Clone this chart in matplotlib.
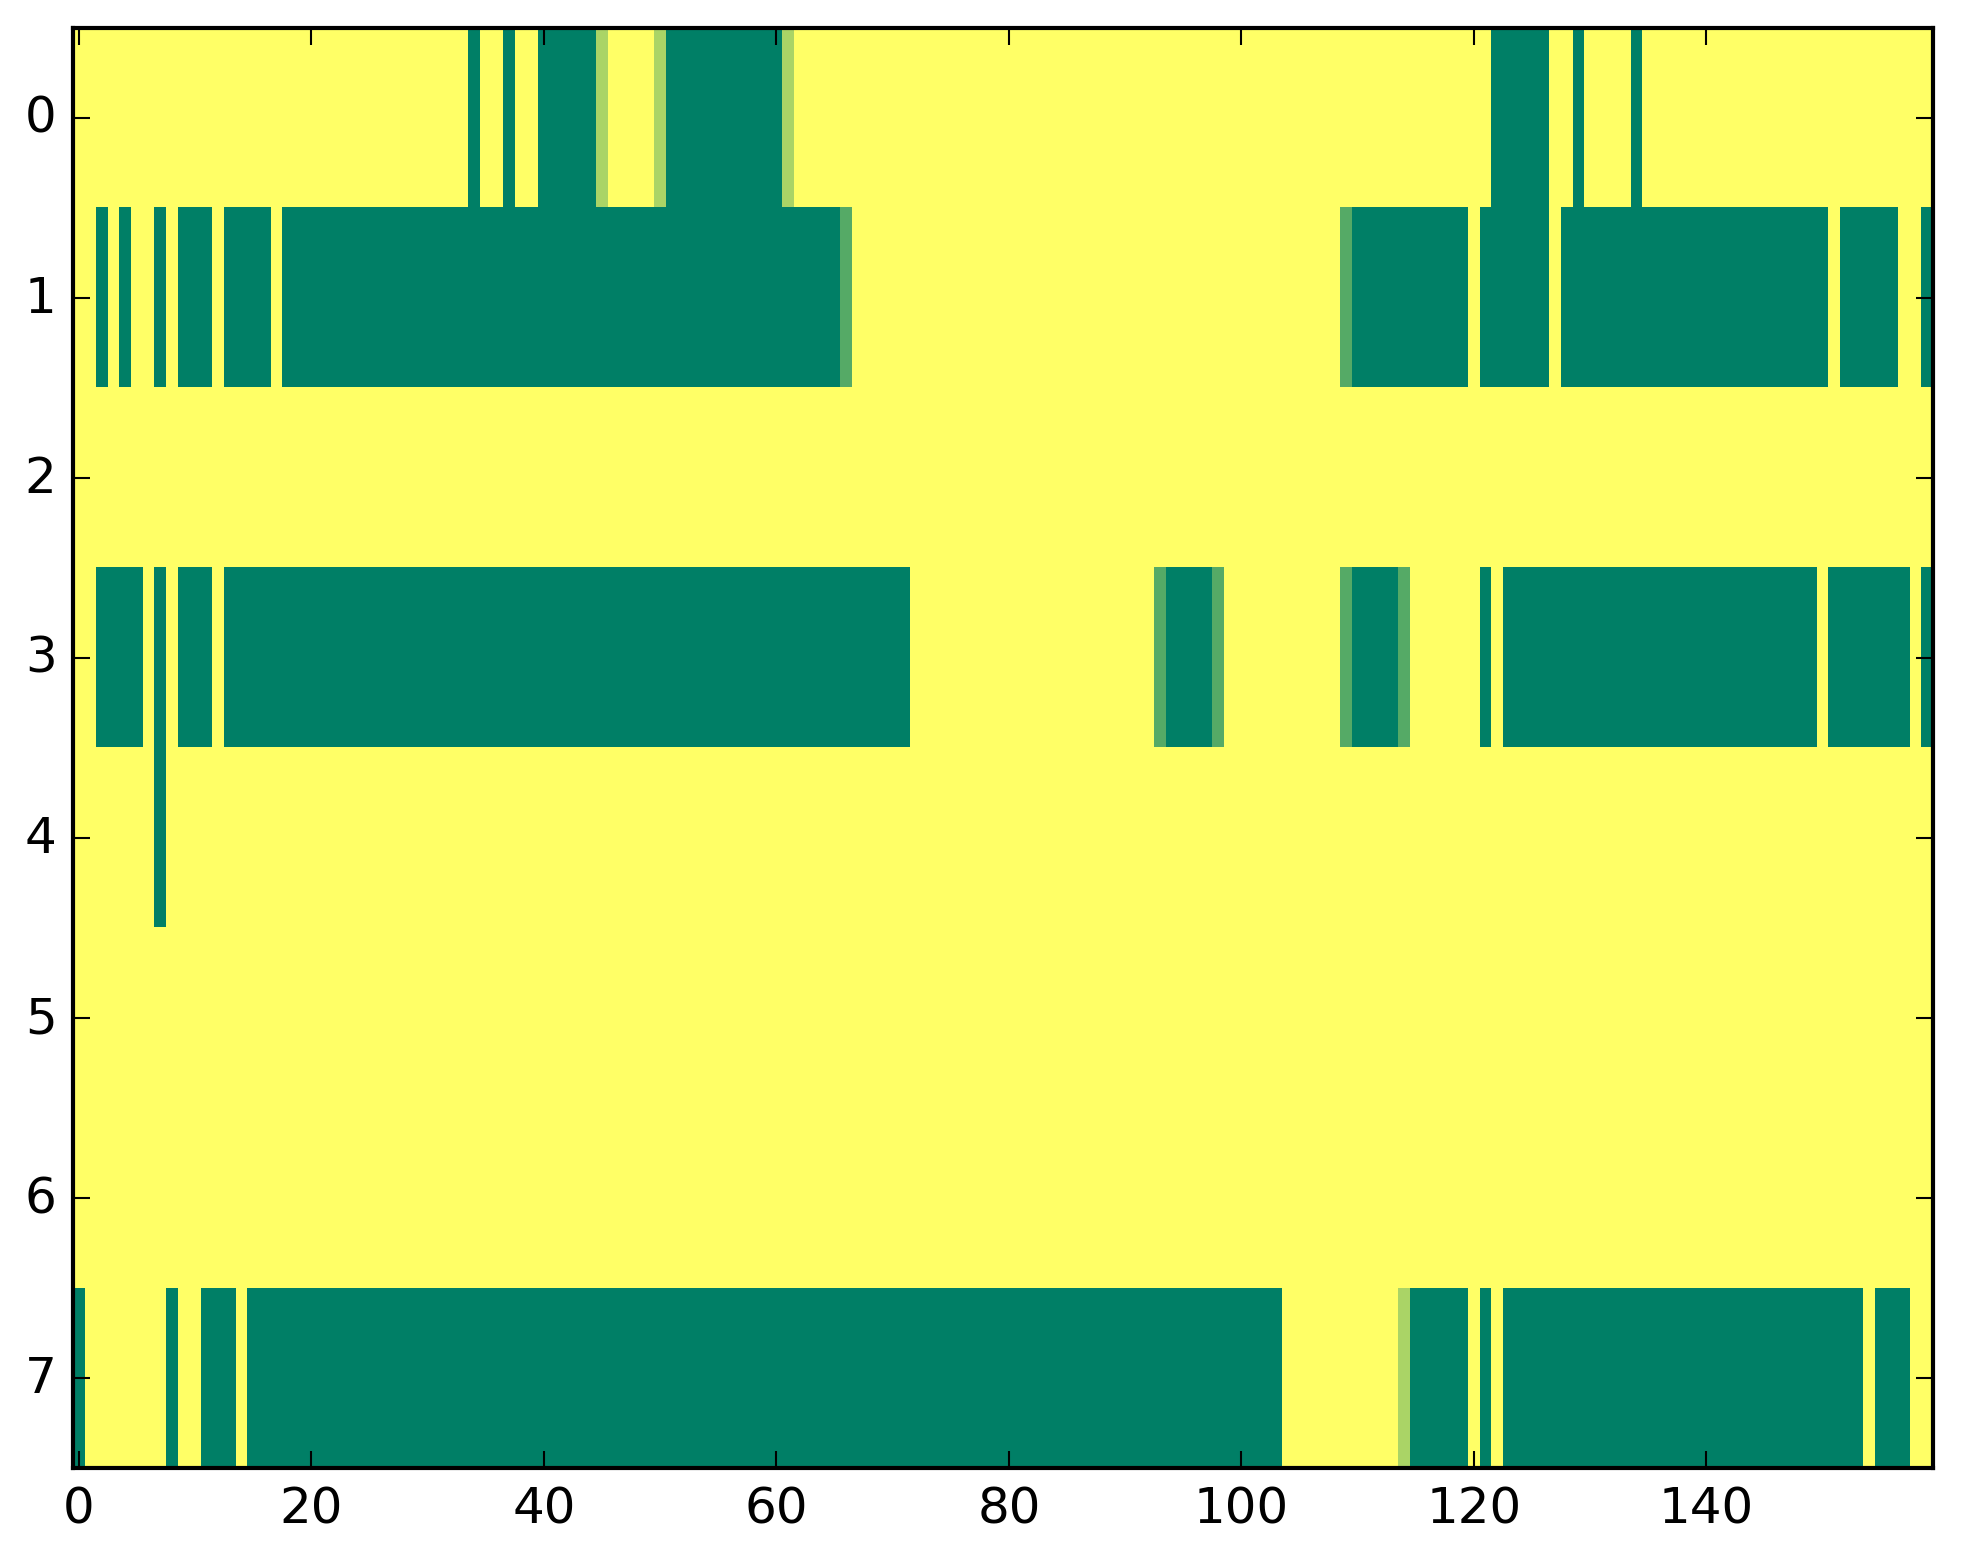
import numpy as np
import matplotlib
matplotlib.use('Agg')
import matplotlib.pyplot as plt

# each row is a list of (value, run length) pairs, 160 columns per row
# 0 = low (dark green), 1 = high (yellow), thirds in between
row0 = [(1, 34), (0, 1), (1, 2), (0, 1), (1, 2), (0, 5), (2/3, 1), (1, 4), (2/3, 1),
        (0, 10), (2/3, 1), (1, 60), (0, 5), (1, 2), (0, 1), (1, 4), (0, 1), (1, 25)]
row1 = [(1, 2), (0, 1), (1, 1), (0, 1), (1, 2), (0, 1), (1, 1), (0, 3), (1, 1), (0, 4),
        (1, 1), (0, 48), (1/3, 1), (1, 42), (1/3, 1), (0, 10), (1, 1), (0, 6), (1, 1),
        (0, 23), (1, 1), (0, 5), (1, 2), (0, 1)]
row2 = [(1, 160)]
row3 = [(1, 2), (0, 4), (1, 1), (0, 1), (1, 1), (0, 3), (1, 1), (0, 59), (1, 21),
        (1/3, 1), (0, 4), (1/3, 1), (1, 10), (1/3, 1), (0, 4), (1/3, 1), (1, 6), (0, 1),
        (1, 1), (0, 27), (1, 1), (0, 7), (1, 1), (0, 1)]
row4 = [(1, 7), (0, 1), (1, 152)]
row5 = [(1, 160)]
row6 = [(1, 160)]
row7 = [(0, 1), (1, 7), (0, 1), (1, 2), (0, 3), (1, 1), (0, 89), (1, 10), (2/3, 1),
        (0, 5), (1, 1), (0, 1), (1, 1), (0, 31), (1, 1), (0, 3), (1, 2)]

rows = [row0, row1, row2, row3, row4, row5, row6, row7]

#expand the runs into the image matrix
grid = []
for r in rows:
    line = []
    for val, n in r:
        line += [val]*n
    grid.append(line)
grid = np.array(grid)

#plot stuff
plt.style.use('classic')
plt.rcParams['figure.facecolor'] = 'white'
plt.rcParams['savefig.facecolor'] = 'white'
plt.rcParams['font.family'] = 'DejaVu Sans'

fig = plt.figure(figsize=(1963/300.0, 1564/300.0), dpi=300)
ax = fig.add_axes([0.0373, 0.0607, 0.9474, 0.9208])
ax.imshow(grid, cmap='summer', vmin=0, vmax=1, aspect='auto', interpolation='nearest')
ax.set_xlim(-0.5, 159.5)
ax.set_ylim(7.5, -0.5)
ax.set_xticks(range(0, 160, 20))
ax.set_yticks(range(8))

fig.savefig('out.png', dpi=300)
